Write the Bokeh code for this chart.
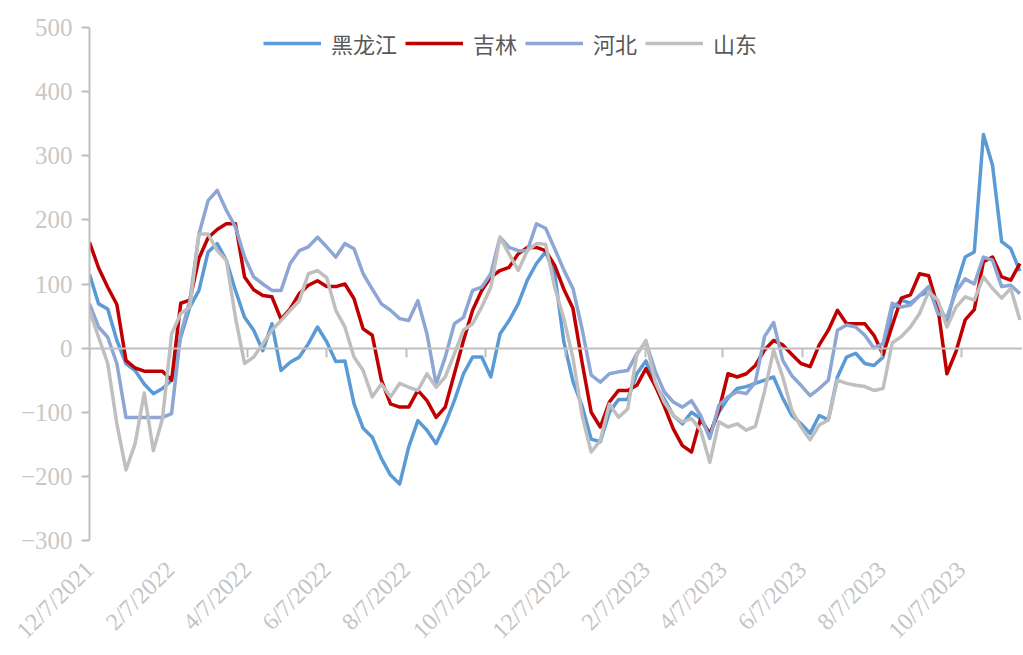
import math
import pandas as pd
from bokeh.plotting import figure
from bokeh.models import (Range1d, FixedTicker, CustomJSTickFormatter, DatetimeAxis,
                          Legend, LegendItem, ColumnDataSource)
from bokeh.embed import file_html
from bokeh.resources import INLINE

# ---------------- data (weekly readings from 12/7/2021) ----------------
start_date = "2021-12-07"
series_names = ["黑龙江", "吉林", "河北", "山东"]

heilongjiang = [115, 69, 61, 12, -24, -35, -56, -71, -63, -50,
                17, 64, 90, 150, 163, 137, 90, 48, 28, -4,
                38, -35, -22, -14, 7, 33, 10, -21, -20, -87,
                -125, -139, -172, -198, -212, -154, -113, -128, -149, -118,
                -82, -40, -14, -14, -45, 22, 43, 69, 106, 132,
                150, 116, 10, -52, -90, -142, -146, -100, -80, -80,
                -40, -20, -58, -79, -105, -118, -100, -110, -133, -100,
                -78, -63, -60, -55, -50, -45, -78, -105, -118, -133,
                -105, -112, -45, -14, -8, -24, -27, -14, 62, 75,
                70, 82, 88, 70, 41, 96, 142, 150, 333, 285,
                166, 155, 120]

jilin = [165, 125, 95, 68, -19, -31, -36, -36, -36, -50,
         70, 75, 140, 172, 185, 194, 194, 111, 91, 82,
         80, 45, 61, 85, 98, 105, 96, 96, 100, 77,
         30, 20, -50, -87, -92, -92, -66, -82, -108, -92,
         -40, 12, 59, 90, 111, 121, 126, 147, 157, 157,
         152, 129, 92, 62, -22, -100, -123, -84, -66, -66,
         -58, -32, -58, -90, -126, -152, -162, -110, -135, -97,
         -40, -45, -40, -27, -3, 12, 5, -10, -24, -29,
         5, 28, 59, 38, 38, 38, 20, -10, 35, 78,
         83, 116, 113, 64, -40, -5, 44, 60, 135, 142,
         111, 106, 132]

hebei = [69, 33, 17, -24, -108, -108, -108, -108, -108, -102,
         22, 74, 178, 230, 246, 215, 189, 142, 111, 100,
         90, 90, 132, 152, 158, 173, 158, 142, 163, 155,
         116, 92, 69, 59, 46, 43, 74, 22, -56, -14,
         38, 48, 90, 95, 116, 173, 157, 152, 152, 194,
         187, 155, 122, 93, 30, -42, -53, -40, -37, -35,
         -9, 10, -35, -68, -84, -92, -82, -105, -141, -89,
         -76, -68, -71, -53, 18, 40, -19, -43, -58, -74,
         -63, -50, 28, 36, 33, 20, 0, 7, 70, 64,
         67, 82, 96, 54, 48, 88, 108, 100, 142, 137,
         96, 98, 85]

shandong = [59, 17, -24, -118, -190, -149, -70, -160, -110, 22,
            54, 64, 178, 178, 152, 137, 48, -24, -14, 7,
            28, 43, 59, 74, 116, 121, 110, 59, 33, -14,
            -35, -76, -56, -76, -55, -61, -66, -40, -61, -45,
            -9, 28, 38, 64, 95, 173, 147, 121, 152, 163,
            162, 95, 46, -15, -105, -162, -144, -87, -108, -95,
            -11, 12, -52, -84, -105, -115, -110, -128, -178, -115,
            -123, -118, -128, -122, -68, -3, -45, -97, -123, -143,
            -120, -112, -50, -55, -58, -60, -66, -63, 8, 18,
            33, 54, 88, 75, 33, 64, 80, 75, 111, 93,
            78, 93, 44]

tick_dates = ["2021-12-07", "2022-02-07", "2022-04-07", "2022-06-07",
              "2022-08-07", "2022-10-07", "2022-12-07", "2023-02-07",
              "2023-04-07", "2023-06-07", "2023-08-07", "2023-10-07"]
y_ticks = [-300, -200, -100, 0, 100, 200, 300, 400, 500]

# ---------------- styling ----------------
colors = ["#5B9BD5", "#C00000", "#8EA6D4", "#BFBFBF"]
AXIS_GRAY = "#BFBFBF"

dates = pd.date_range(start_date, periods=len(heilongjiang), freq="7D")
source = ColumnDataSource(dict(date=dates, s0=heilongjiang, s1=jilin,
                               s2=hebei, s3=shandong))

p = figure(x_axis_type="datetime", output_backend="svg", toolbar_location=None,
           frame_width=933, frame_height=513,
           min_border_left=89, min_border_top=27, min_border_right=0,
           min_border_bottom=0,
           x_range=Range1d(pd.Timestamp(start_date), pd.Timestamp("2023-11-23")),
           y_range=Range1d(-300, 500))
p.background_fill_color = "white"
p.border_fill_color = "white"
p.outline_line_color = None
p.xgrid.grid_line_color = None
p.ygrid.grid_line_color = None

renderers = []
for i, name in enumerate(series_names):
    r = p.line("date", f"s{i}", source=source, line_color=colors[i],
               line_width=3.5, line_join="round")
    renderers.append(r)

# y axis
yax = p.yaxis[0]
yax.ticker = FixedTicker(ticks=y_ticks)
yax.axis_line_color = AXIS_GRAY
yax.axis_line_width = 2
yax.major_tick_line_color = AXIS_GRAY
yax.major_tick_line_width = 2
yax.major_tick_out = 8
yax.major_tick_in = 0
yax.minor_tick_line_color = None
yax.major_label_text_font = "Liberation Serif"
yax.major_label_text_font_size = "25px"
yax.major_label_text_color = "#CCC7C1"
yax.major_label_standoff = 9

tick_ms = [pd.Timestamp(d).value / 1e6 for d in tick_dates]
date_fmt = CustomJSTickFormatter(code="""
const d = new Date(tick);
return (d.getUTCMonth() + 1) + '/' + d.getUTCDate() + '/' + d.getUTCFullYear();
""")

# bottom axis: labels only
xax = p.xaxis[0]
xax.ticker = FixedTicker(ticks=tick_ms)
xax.formatter = date_fmt
xax.axis_line_color = None
xax.major_tick_line_color = None
xax.major_tick_out = 0
xax.major_tick_in = 0
xax.minor_tick_line_color = None
xax.major_label_orientation = math.pi / 4
xax.major_label_text_font = "Liberation Serif"
xax.major_label_text_font_size = "24px"
xax.major_label_text_color = "#C4C4C4"
xax.major_label_standoff = 25

# zero line axis with ticks
zax = DatetimeAxis(fixed_location=0, ticker=FixedTicker(ticks=tick_ms),
                   formatter=date_fmt,
                   axis_line_color=AXIS_GRAY, axis_line_width=2,
                   major_tick_line_color=AXIS_GRAY, major_tick_line_width=2,
                   major_tick_in=9, major_tick_out=0,
                   minor_tick_line_color=None,
                   major_label_text_font_size="0px",
                   major_label_text_color=None,
                   major_label_standoff=0)
p.add_layout(zax, "above")

legend = Legend(items=[LegendItem(label=n, renderers=[r]) for n, r in zip(series_names, renderers)],
                orientation="horizontal", location=(174, 481),
                glyph_width=58, glyph_height=24, label_height=24,
                label_standoff=10, spacing=8, padding=0, margin=0,
                label_text_font="Noto Sans CJK SC", label_text_font_size="22px",
                label_text_color="#595959",
                border_line_color=None, background_fill_alpha=0)
p.add_layout(legend, "center")

open("out.html", "w").write(file_html(p, INLINE))
